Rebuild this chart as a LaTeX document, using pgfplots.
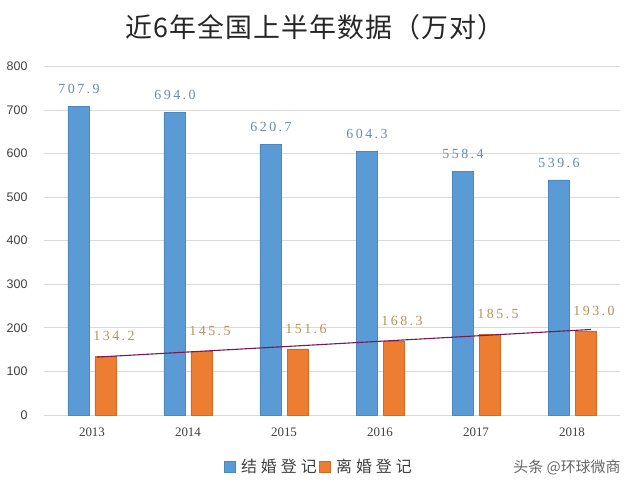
\documentclass[border=0pt]{standalone}
\usepackage{fontspec}
\setmainfont{Liberation Serif}
\newfontfamily\cjk{Noto Sans CJK SC}
\newfontfamily\cjkl[LetterSpace=25]{Noto Sans CJK SC}
\newfontfamily\cjkt[LetterSpace=4]{Noto Sans CJK SC}
\newfontfamily\lblfont[LetterSpace=18]{Liberation Serif}
\newfontfamily\arial{Liberation Sans}
\usepackage{pgfplots}
\pgfplotsset{compat=1.18}

\definecolor{barblue}{HTML}{5B9BD5}
\definecolor{barblueedge}{HTML}{4A88C4}
\definecolor{barorange}{HTML}{ED7D31}
\definecolor{barorangeedge}{HTML}{D46A22}
\definecolor{lblblue}{HTML}{6A8BA6}
\definecolor{lblorange}{HTML}{B3925A}
\definecolor{gridgray}{HTML}{D9D9D9}
\definecolor{tickgray}{HTML}{404040}
\definecolor{trend}{RGB}{120,25,85}

\begin{document}
\begin{tikzpicture}
\useasboundingbox (-44bp,-80bp) rectangle (596bp,415bp);
\begin{axis}[
    scale only axis,
    width=576bp, height=348.6bp,
    xmin=-0.5, xmax=5.5,
    ymin=0, ymax=800,
    ytick={0,100,...,800},
    xtick={0,1,2,3,4,5},
    xticklabels={2013,2014,2015,2016,2017,2018},
    major tick length=0pt,
    axis line style={draw=none},
    ymajorgrids,
    grid style={gridgray, line width=0.8bp},
    /pgf/number format/assume math mode=true,
    yticklabel style={font=\arial\fontsize{12.5}{13}\selectfont, text=tickgray, anchor=east, xshift=-13bp},
    xticklabel style={font=\fontsize{13}{14}\selectfont, text=tickgray, yshift=-9bp},
    legend style={at={(0.477,-0.149)}, anchor=center, draw=none, fill=none,
        font=\cjkl\fontsize{16}{17}\selectfont, text=tickgray,
        /tikz/every even column/.append style={column sep=0bp}},
    legend columns=2,
    legend image code/.code={\fill[#1] (0bp,-5bp) rectangle (11bp,6bp); \path (15bp,0bp);},
    nodes near coords style={font=\lblfont\fontsize{14}{15}\selectfont},
]
\addplot[ybar, bar width=21bp, bar shift=-13.5bp, fill=barblue, draw=barblueedge,
    nodes near coords, point meta=explicit,
    every node near coord/.append style={text=lblblue, yshift=9bp, xshift=-13bp,
        /pgf/number format/.cd, fixed, fixed zerofill, precision=1}]
coordinates {(0,707.9) [707.9] (1,694.0) [694.0] (2,620.7) [620.7]
             (3,604.3) [604.3] (4,558.4) [558.4] (5,539.6) [539.6]};
\addlegendentry{结婚登记}
\addplot[ybar, bar width=21bp, bar shift=13.5bp, fill=barorange, draw=barorangeedge,
    nodes near coords, point meta=explicit,
    every node near coord/.append style={text=lblorange, yshift=12bp, xshift=22bp,
        /pgf/number format/.cd, fixed, fixed zerofill, precision=1}]
coordinates {(0,134.2) [134.2] (1,145.5) [145.5] (2,151.6) [151.6]
             (3,168.3) [168.3] (4,185.5) [185.5] (5,193.0) [193.0]};
\addlegendentry{离婚登记}
% linear trend of the divorce series
\addplot[trend, line width=1.1bp, forget plot] coordinates {(0.05,132.9) (5.2,196.3)};
\end{axis}
\node[font=\cjkt\fontsize{27}{28}\selectfont, text=black!85] at (271bp,388bp) {近6年全国上半年数据（万对）};
\node[font=\cjk\fontsize{15}{16}\selectfont, text=black!60] at (523bp,-52bp) {头条 @环球微商};
\end{tikzpicture}
\end{document}
